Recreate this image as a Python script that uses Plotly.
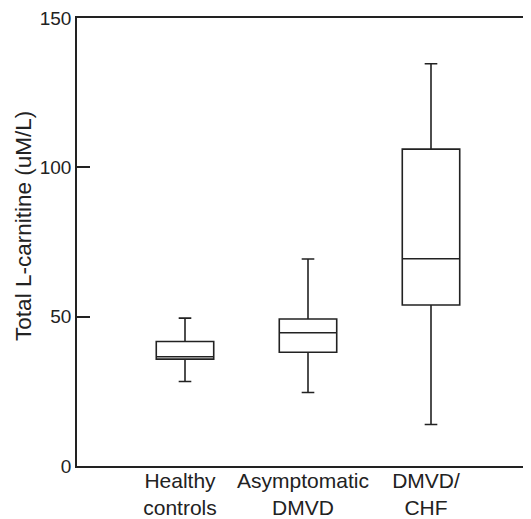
import plotly.graph_objects as go

categories = ["Healthy<br>controls", "Asymptomatic<br>DMVD", "DMVD/<br>CHF"]
lower_fence = [28.3, 24.6, 13.9]
q1 = [35.8, 38.1, 53.9]
median = [36.6, 44.6, 69.4]
q3 = [41.7, 49.2, 106.1]
upper_fence = [49.5, 69.3, 134.7]
y_ticks = [0, 50, 100, 150]

ink = "#222222"
font = "Liberation Sans, Arial, Helvetica, sans-serif"

fig = go.Figure()
fig.add_trace(go.Box(
    x=[0, 1, 2],
    q1=q1, median=median, q3=q3,
    lowerfence=lower_fence, upperfence=upper_fence,
    width=0.467, whiskerwidth=0.22,
    fillcolor="white",
    line=dict(color=ink, width=1.6),
    boxpoints=False, hoverinfo="skip", showlegend=False,
))

fig.update_layout(
    width=523, height=511,
    margin=dict(l=69, r=0, t=9, b=52),
    paper_bgcolor="white", plot_bgcolor="white",
    font=dict(family=font, color=ink),
    xaxis=dict(
        range=[-0.878, 2.813],
        tickvals=[0, 1, 2], ticktext=categories,
        tickfont=dict(size=21, color=ink),
        ticklabelstandoff=-5, ticklabelshift=-5,
        showline=True, linecolor=ink, linewidth=1.6, mirror=True,
        ticks="", showgrid=False, zeroline=False,
    ),
    yaxis=dict(
        range=[0, 150], tickvals=y_ticks,
        tickfont=dict(size=19, color=ink),
        ticklabeloverflow="allow",
        ticks="inside", ticklen=13, tickwidth=1.6, tickcolor=ink,
        showline=True, linecolor=ink, linewidth=1.6,
        showgrid=False, zeroline=False,
    ),
    yaxis2=dict(
        range=[0, 150], tickvals=y_ticks, overlaying="y", side="right",
        ticks="inside", ticklen=4, tickwidth=1.6, tickcolor=ink,
        showticklabels=False, showline=False, showgrid=False, zeroline=False,
    ),
    annotations=[dict(
        text="Total L-carnitine (uM/L)", textangle=-90,
        xref="paper", yref="paper", x=-0.1167, y=0.536,
        xanchor="center", yanchor="middle", showarrow=False,
        font=dict(size=22.5, color=ink),
    )],
)

fig.write_html("out.html")
